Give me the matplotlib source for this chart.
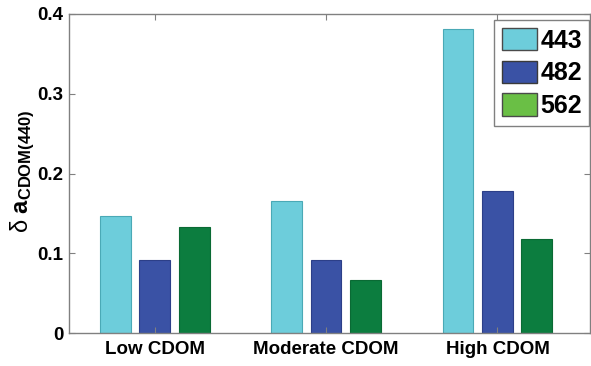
import matplotlib
matplotlib.use("Agg")
import matplotlib.pyplot as plt
from matplotlib.patches import Patch
import numpy as np

categories = ["Low CDOM", "Moderate CDOM", "High CDOM"]
series_names = ["443", "482", "562"]
v443 = [0.147, 0.166, 0.381]
v482 = [0.091, 0.091, 0.178]
v562 = [0.133, 0.066, 0.118]
yticks = [0, 0.1, 0.2, 0.3, 0.4]
ytick_labels = ["0", "0.1", "0.2", "0.3", "0.4"]

plt.rcParams["font.family"] = ["Liberation Sans", "DejaVu Sans"]
plt.rcParams["mathtext.fontset"] = "custom"
plt.rcParams["mathtext.rm"] = "Liberation Sans"
plt.rcParams["mathtext.bf"] = "Liberation Sans:bold"
plt.rcParams["mathtext.it"] = "Liberation Sans:italic"

fig = plt.figure(figsize=(5.91, 3.66), dpi=100)
ax = fig.add_axes([69/591, 33/366, (590-69)/591, (333-14)/366])

fill = ["#6dcddb", "#3a52a5", "#0c7d3f"]
edge = ["#4aa9b6", "#2c3f88", "#0a6a34"]
legend_fill = ["#6dcddb", "#3a52a5", "#6abf45"]
legend_edge = ["#4a4a4a", "#3a3a3a", "#4a4a4a"]

x = np.arange(1, len(categories) + 1)
width = 0.18
offset = 0.23
for i, vals in enumerate([v443, v482, v562]):
    ax.bar(x + (i - 1) * offset, vals, width=width, color=fill[i],
           edgecolor=edge[i], linewidth=0.8)

ax.set_xlim(0.5, 3.54)
ax.set_ylim(0, 0.4)
ax.set_xticks(x)
ax.set_xticklabels(categories, fontweight="bold", fontsize=13.5)
ax.set_yticks(yticks)
ax.set_yticklabels(ytick_labels, fontweight="bold", fontsize=13.5)
ax.tick_params(direction="in", length=4, top=True, right=True, color="#808080",
               pad=4)
ax.tick_params(axis="x", pad=6)
for s in ax.spines.values():
    s.set_color("#808080")
    s.set_linewidth(1.0)

ax.set_ylabel(r"$\mathrm{δ}\ \mathbf{a_{CDOM(440)}}$", fontsize=17)
ax.yaxis.set_label_coords(-0.062, 0.508)

handles = [Patch(facecolor=legend_fill[i], edgecolor=legend_edge[i], label=series_names[i])
           for i in range(3)]
leg = ax.legend(handles=handles, loc="upper right", bbox_to_anchor=(0.999, 0.98),
                prop={"family": "Liberation Sans", "weight": "bold", "size": 18},
                fancybox=False, framealpha=1, edgecolor="#808080",
                handlelength=1.4, handleheight=1.0, handletextpad=0.15,
                labelspacing=0.32, borderpad=0.3, borderaxespad=0)
leg.get_frame().set_linewidth(1.0)

fig.savefig("out.png", dpi=100)
